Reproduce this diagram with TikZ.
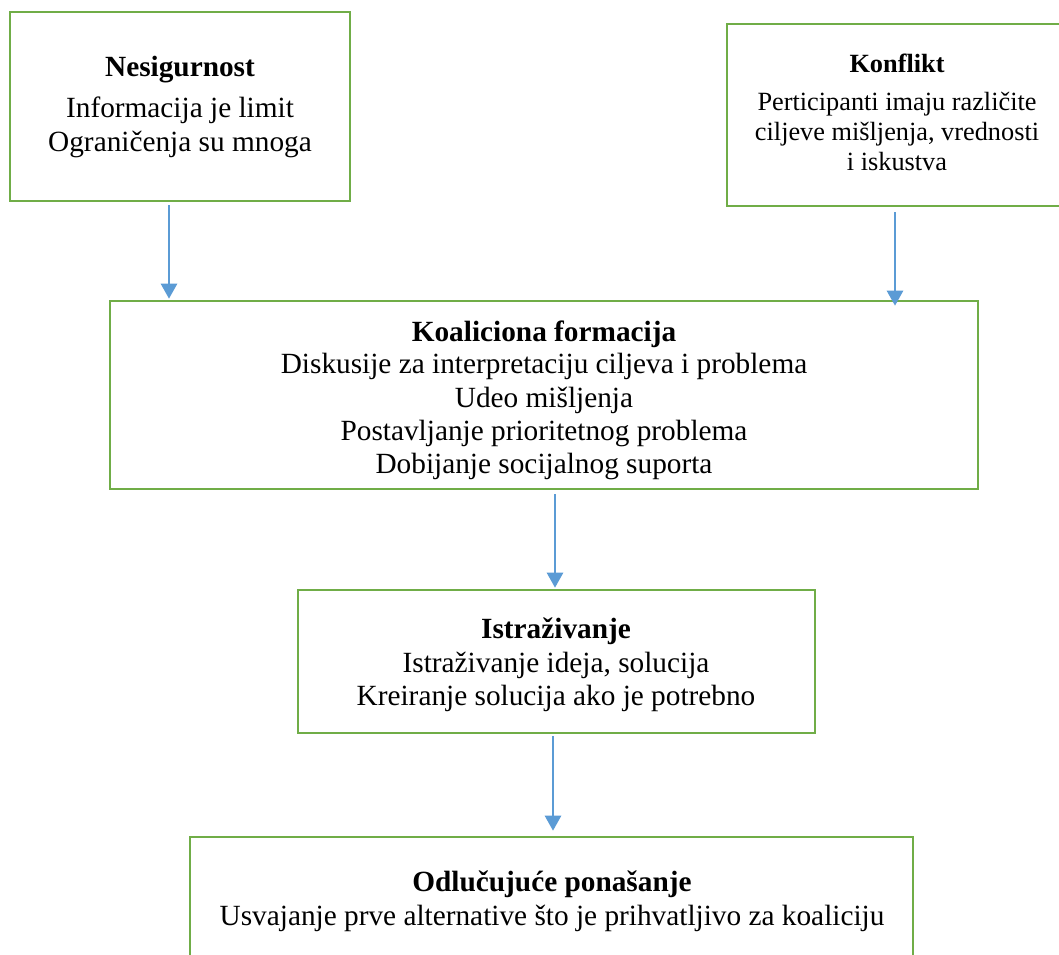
\documentclass[tikz,border=0pt]{standalone}
\usepackage{fontspec}
\setmainfont{Liberation Serif}
\usetikzlibrary{arrows.meta}
\definecolor{boxgreen}{RGB}{112,173,71}
\definecolor{arrblue}{RGB}{91,155,213}
\tikzset{
  box/.style={draw=boxgreen, line width=2.6pt, rectangle, inner sep=0pt, fill=none},
  txt/.style={anchor=base, inner sep=0pt, font=\fontsize{29.3}{34}\selectfont},
  ttl/.style={txt, font=\fontsize{29.3}{34}\selectfont\bfseries},
  stxt/.style={anchor=base, inner sep=0pt, font=\fontsize{26.3}{30}\selectfont},
  sttl/.style={stxt, font=\fontsize{26.3}{30}\selectfont\bfseries},
  arr/.style={draw=arrblue, line width=2.6pt, -{Triangle[length=15pt,width=16pt]}}
}
\begin{document}
\begin{tikzpicture}[x=1pt,y=-1pt]
\useasboundingbox[fill=white] (0,0) rectangle (1059,954);
% boxes
\node[box, minimum width=340pt, minimum height=189pt] (nes) at (180,106.5) {};
\node[box, minimum width=348pt, minimum height=182pt] (kon) at (901,115) {};
\node[box, minimum width=868pt, minimum height=188pt] (koa) at (544,395) {};
\node[box, minimum width=517pt, minimum height=143pt] (ist) at (556.5,661.5) {};
\node[box, minimum width=723pt, minimum height=133pt] (odl) at (551.5,903.5) {};
% texts
\node[ttl] (nes1) at (180,76) {Nesigurnost};
\node[txt] (nes2) at (180,117) {Informacija je limit};
\node[txt] (nes3) at (180,151) {Ograničenja su mnoga};
\node[sttl] (kon1) at (897,72) {Konflikt};
\node[stxt] (kon2) at (897,110) {Perticipanti imaju različite};
\node[stxt] (kon3) at (897,140) {ciljeve mišljenja, vrednosti};
\node[stxt] (kon4) at (897,170) {i iskustva};
\node[ttl] (koa1) at (544,341) {Koaliciona formacija};
\node[txt] (koa2) at (544,373) {Diskusije za interpretaciju ciljeva i problema};
\node[txt] (koa3) at (544,407) {Udeo mišljenja};
\node[txt] (koa4) at (544,440) {Postavljanje prioritetnog problema};
\node[txt] (koa5) at (544,473) {Dobijanje socijalnog suporta};
\node[ttl] (ist1) at (556,638) {Istraživanje};
\node[txt] (ist2) at (556,672) {Istraživanje ideja, solucija};
\node[txt] (ist3) at (556,705) {Kreiranje solucija ako je potrebno};
\node[ttl] (odl1) at (552,891) {Odlučujuće ponašanje};
\node[txt] (odl2) at (552,925) {Usvajanje prve alternative što je prihvatljivo za koaliciju};
% arrow columns
\coordinate (c1) at (169,0);
\coordinate (c2) at (895,0);
\coordinate (c3) at (555,0);
\coordinate (c4) at (553,0);
\draw[arr, shorten <=3pt, shorten >=1pt] (nes.south -| c1) -- (koa.north -| c1);
\draw[arr, shorten <=5pt, shorten >=-6pt] (kon.south -| c2) -- (koa.north -| c2);
\draw[arr, shorten <=4pt, shorten >=1pt] (koa.south -| c3) -- (ist.north -| c3);
\draw[arr, shorten <=2pt, shorten >=5pt] (ist.south -| c4) -- (odl.north -| c4);
\end{tikzpicture}
\end{document}
